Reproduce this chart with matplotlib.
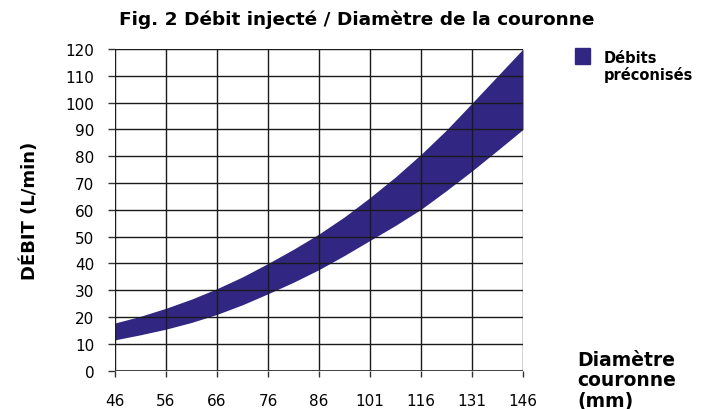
import matplotlib
matplotlib.use('Agg')
import matplotlib.pyplot as plt
import matplotlib.patches as mpatches

# diametre couronne (mm) - axe categoriel, espacement egal
diametres = ['46', '56', '66', '76', '86', '101', '116', '131', '146']
# bornes du debit preconise (L/min), lues sur le graphique
# tous les demi-intervalles (position en rang de categorie)
pos_mesure = [0, 0.5, 1, 1.5, 2, 2.5, 3, 3.5, 4, 4.5, 5, 5.5, 6, 6.5, 7, 7.5, 8]
debit_haut = [17.8, 20.3, 23.3, 26.7, 30.6, 35.0, 40.0, 45.3, 51.0,
              57.4, 64.6, 72.3, 80.7, 89.8, 99.8, 109.9, 120.0]
debit_bas = [11.5, 13.4, 15.5, 18.0, 21.0, 24.6, 28.7, 33.0, 37.7,
             43.0, 48.6, 54.2, 60.2, 67.2, 74.5, 82.2, 90.0]
yticks = list(range(0, 121, 10))

couleur = '#312783'
plt.rcParams['font.family'] = ['DejaVu Sans']

fig = plt.figure(figsize=(7.02, 4.10), dpi=100)
ax = fig.add_axes([115/702, 1 - 371.7/410, 408/702, 321.7/410])

pos = list(range(len(diametres)))
ax.fill_between(pos_mesure, debit_bas, debit_haut, color=couleur, lw=0, zorder=1)

ax.set_xlim(0, len(diametres) - 1)
ax.set_ylim(0, 120)
ax.set_xticks(pos)
ax.set_xticklabels(diametres)
ax.set_yticks(yticks)

# grille
for i in pos:
    ax.axvline(i, color='#1a1a1a', lw=1.0, zorder=2)
for v in yticks:
    ax.axhline(v, color='#1a1a1a', lw=1.0, zorder=2)
ax.axhline(0, color='#333333', lw=2, zorder=3)

for s in ax.spines.values():
    s.set_visible(False)
ax.tick_params(axis='both', width=1, color='#333333', labelsize=11)
ax.tick_params(axis='y', length=5, pad=10)
ax.tick_params(axis='x', length=4.3, pad=12)

ax.set_ylabel('DÉBIT (L/min)', fontsize=13, fontweight='bold', labelpad=19)

fig.text(357/702, 1 - 20/410, 'Fig. 2 Débit injecté / Diamètre de la couronne',
         ha='center', va='center', fontsize=13.3, fontweight='bold')
fig.text(577/702, 1 - 381/410, 'Diamètre\ncouronne\n(mm)', ha='left', va='center',
         fontsize=13.5, fontweight='bold', linespacing=1.1)

# legende
fig.patches.append(mpatches.Rectangle((575/702, 1 - 65/410), 15/702, 16/410,
                                      transform=fig.transFigure, color=couleur))
fig.text(604/702, 1 - 67/410, 'Débits\npréconisés', ha='left', va='center',
         fontsize=10.5, fontweight='bold', linespacing=1.15)

fig.savefig('out.png', dpi=100)
